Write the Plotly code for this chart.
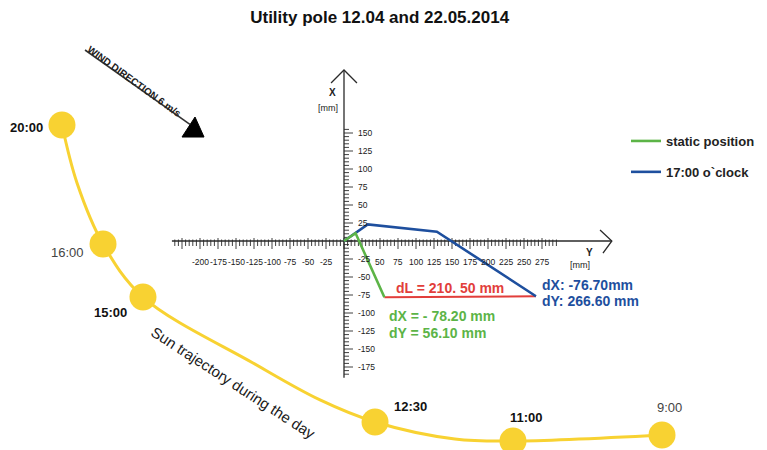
import plotly.graph_objects as go

# ---------------- data (mm) ----------------
TITLE = "Utility pole 12.04 and 22.05.2014"

# horizontal axis = "Y" [mm], vertical axis = "X" [mm]
static_Y = [0, 16, 56.1]
static_X = [0, 11, -78.2]
clock17_Y = [0, 33, 129, 266.6]
clock17_X = [0, 23, 13, -76.7]
shift_Y = [56.1, 266.6]
shift_X = [-78.2, -76.7]

h_tick_labels = [-200, -175, -150, -125, -100, -75, -50, -25,
                 50, 75, 100, 125, 150, 175, 200, 225, 250, 275]
v_tick_labels = [150, 125, 100, 75, 50, 25,
                 -25, -50, -75, -100, -125, -150, -175]

sun_times = ["20:00", "16:00", "15:00", "12:30", "11:00", "9:00"]
sun_Y = [-391.7, -334.7, -279.2, 43.1, 234.7, 441.7]
sun_X = [161.1, -4.2, -77.8, -251.4, -277.8, -269.4]
path_Y = [-391.7, -370.8, -334.7, -279.2, -126.4, -33.3, 43.1, 154.0, 234.7, 441.7]
path_X = [161.1, 80.6, -4.2, -77.8, -169.4, -220.8, -251.4, -275.0, -277.8, -269.4]

# ---------------- styles ----------------
GREEN = "#5CB447"
BLUE = "#1E4F9E"
RED = "#E23E3B"
SUN = "#F8D232"
AXIS = "#2a2a2a"
FONT = "Liberation Sans, Arial, sans-serif"
PX = 1 / 0.72  # mm per pixel

fig = go.Figure()

# ---- sun trajectory ----
fig.add_trace(go.Scatter(x=path_Y, y=path_X, mode="lines", line=dict(color=SUN, width=3, shape="spline"),
                         hoverinfo="skip", showlegend=False))
fig.add_trace(go.Scatter(x=sun_Y, y=sun_X, mode="markers", marker=dict(color=SUN, size=27),
                         text=sun_times, hoverinfo="text", showlegend=False, cliponaxis=False))

label_style = {
    "20:00": (-35, -2, True), "16:00": (-36, -8, False), "15:00": (-32, -15, True),
    "12:30": (35, 16, True), "11:00": (14, 24, True), "9:00": (7, 27, False),
}
for t, sy, sx in zip(sun_times, sun_Y, sun_X):
    dx, dy, bold = label_style[t]
    fig.add_annotation(x=sy, y=sx, xref="x", yref="y", text=f"<b>{t}</b>" if bold else t,
                       showarrow=False, xshift=dx, yshift=dy,
                       font=dict(family=FONT, size=13, color="#111" if bold else "#444"))

fig.add_annotation(x=-154.2, y=-197.2, xref="x", yref="y", text="Sun trajectory during the day",
                   showarrow=False, textangle=33, font=dict(family=FONT, size=15, color="#1a1a1a"))

# ---- wind arrow ----
fig.add_trace(go.Scatter(x=[-359.7, -214.0], y=[265.3, 162.0], mode="lines",
                         line=dict(color="#333", width=1.6), hoverinfo="skip", showlegend=False))
fig.add_trace(go.Scatter(x=[-206.9, -225.0, -194.4, -206.9], y=[172.2, 144.4, 144.4, 172.2],
                         mode="lines", fill="toself", fillcolor="#000", line=dict(color="#000", width=1),
                         hoverinfo="skip", showlegend=False))
fig.add_annotation(x=-291.0, y=222.0, xref="x", yref="y", text="<b>WIND DIRECTION 6 m/s</b>",
                   showarrow=False, textangle=36, font=dict(family=FONT, size=10, color="#222"))

# ---- axes (drawn through origin) ----
h_min, h_max = -239, 372
v_min, v_max = -190, 237.5
fig.add_trace(go.Scatter(x=[h_min, h_max, None, 355.6, h_max, 359.7],
                         y=[0, 0, None, 15.3, 0, -16.7], mode="lines",
                         line=dict(color=AXIS, width=1.3), hoverinfo="skip", showlegend=False))
fig.add_trace(go.Scatter(x=[0, 0, None, -18, 0, 18],
                         y=[v_min, v_max, None, 219.4, v_max, 219.4], mode="lines",
                         line=dict(color=AXIS, width=1.3), hoverinfo="skip", showlegend=False))

# tick marks
hx, hy = [], []
for v in range(-235, 300, 5):
    major = v % 25 == 0
    hx += [v, v, None]
    hy += [(3 if major else 1.5) * PX, (-8 if major else -5) * PX, None]
fig.add_trace(go.Scatter(x=hx, y=hy, mode="lines", line=dict(color=AXIS, width=0.9),
                         hoverinfo="skip", showlegend=False))
vx, vy = [], []
for v in range(-185, 160, 5):
    major = v % 25 == 0
    vx += [0, (9 if major else 5) * PX, None]
    vy += [v, v, None]
fig.add_trace(go.Scatter(x=vx, y=vy, mode="lines", line=dict(color=AXIS, width=0.9),
                         hoverinfo="skip", showlegend=False))

tick_font = dict(family="Liberation Sans Narrow, " + FONT, size=8.5, color="#1a1a1a")
for v in h_tick_labels:
    fig.add_annotation(x=v, y=-21 * PX, xref="x", yref="y", text=str(v), showarrow=False, font=tick_font)
for v in v_tick_labels:
    fig.add_annotation(x=12 * PX, y=v, xref="x", yref="y", text=str(v), showarrow=False,
                       xanchor="left", font=tick_font)

fig.add_annotation(x=-15.3, y=205.6, xref="x", yref="y", text="<b>X</b>", showarrow=False,
                   font=dict(family=FONT, size=10, color="#222"))
fig.add_annotation(x=-22.2, y=184.7, xref="x", yref="y", text="[mm]", showarrow=False,
                   font=dict(family=FONT, size=9, color="#222"))
fig.add_annotation(x=340.3, y=-15.3, xref="x", yref="y", text="<b>Y</b>", showarrow=False,
                   font=dict(family=FONT, size=10, color="#222"))
fig.add_annotation(x=327.8, y=-33.3, xref="x", yref="y", text="[mm]", showarrow=False,
                   font=dict(family=FONT, size=9, color="#222"))

# ---- displacement lines ----
fig.add_trace(go.Scatter(x=shift_Y, y=shift_X, mode="lines", line=dict(color=RED, width=2),
                         hoverinfo="skip", showlegend=False))
fig.add_trace(go.Scatter(x=clock17_Y, y=clock17_X, mode="lines", name="<b>17:00 o`clock</b>",
                         line=dict(color=BLUE, width=2.6), legendgroup="b", legendrank=2))
fig.add_trace(go.Scatter(x=static_Y, y=static_X, mode="lines", name="<b>static position</b>",
                         line=dict(color=GREEN, width=2.6), legendgroup="a", legendrank=1))

fig.add_annotation(x=147.2, y=-65.3, xref="x", yref="y", text="<b>dL = 210. 50 mm</b>", showarrow=False,
                   font=dict(family=FONT, size=14, color=RED))
fig.add_annotation(x=59.7, y=-104.2, xref="x", yref="y", text="<b>dX = - 78.20 mm</b>", showarrow=False,
                   xanchor="left", font=dict(family=FONT, size=14, color=GREEN))
fig.add_annotation(x=59.7, y=-127.8, xref="x", yref="y", text="<b>dY = 56.10 mm</b>", showarrow=False,
                   xanchor="left", font=dict(family=FONT, size=14, color=GREEN))
fig.add_annotation(x=272.2, y=-61.1, xref="x", yref="y", text="<b>dX: -76.70mm</b>", showarrow=False,
                   xanchor="left", font=dict(family=FONT, size=14, color=BLUE))
fig.add_annotation(x=272.2, y=-83.3, xref="x", yref="y", text="<b>dY: 266.60 mm</b>", showarrow=False,
                   xanchor="left", font=dict(family=FONT, size=14, color=BLUE))

fig.update_layout(
    width=767, height=450,
    margin=dict(l=0, r=0, t=0, b=0),
    paper_bgcolor="white", plot_bgcolor="white",
    title=dict(text=f"<b>{TITLE}</b>", x=0.495, xanchor="center", y=0.962, yanchor="middle",
               font=dict(family=FONT, size=17, color="#111")),
    xaxis=dict(range=[-344 * PX, (767 - 344) * PX], visible=False, fixedrange=True),
    yaxis=dict(range=[-(450 - 241) * PX, 241 * PX], visible=False, fixedrange=True),
    showlegend=True,
    legend=dict(x=626 / 767, y=1 - 126 / 450, xanchor="left", yanchor="top",
                traceorder="grouped", tracegroupgap=11, bgcolor="rgba(0,0,0,0)",
                font=dict(family=FONT, size=13, color="#222")),
)

fig.write_html("out.html", config={"displayModeBar": False},
               post_script="document.body.style.margin='0';document.body.style.overflow='hidden';")
